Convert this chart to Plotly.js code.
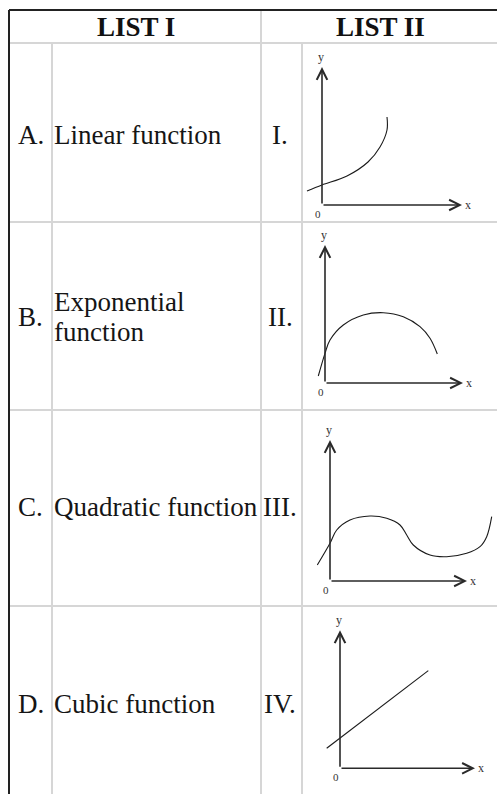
<!DOCTYPE html>
<html>
<head>
<meta charset="utf-8">
<script src="https://cdn.plot.ly/plotly-3.0.1.min.js"></script>
<style>html,body{margin:0;padding:0;background:#fff;}#chart{width:497px;height:794px;}</style>
</head>
<body>
<div id="chart"></div>
<script>
// ---- data ----
const headers = ["LIST I", "LIST II"];
const rowLetters = ["A.", "B.", "C.", "D."];
const functionNames = [["Linear function"], ["Exponential", "function"], ["Quadratic function"], ["Cubic function"]];
const romanLabels = ["I.", "II.", "III.", "IV."];

// graph I : rising curve (exponential-like)
const g1x = [-1.5, 0, 2.5, 4.6, 5.8, 6.5, 6.5];
const g1y = [1.4, 2.0, 2.9, 4.3, 5.8, 7.5, 8.8];
// graph II : arch (quadratic-like)
const g2x = [-0.67, 0, 0.5, 1.83, 3.83, 5.83, 7.83, 9.5, 10.5, 11.23];
const g2y = [0.7, 2.97, 4.3, 5.8, 6.8, 7.03, 6.63, 5.63, 4.47, 2.9];
// graph III : wave (cubic-like)
const g3x = [-1.27, 0, 0.67, 2, 4, 5.67, 7, 7.67, 8.33, 10, 11.67, 13.67, 15, 15.67, 16.17];
const g3y = [1.6, 3.77, 5.1, 6.1, 6.5, 6.27, 5.6, 4.6, 3.6, 2.6, 2.43, 2.77, 3.43, 4.43, 6.43];
// graph IV : straight line (linear)
const g4x = [-1.33, 8.83];
const g4y = [2.0, 9.77];

// axis lengths of each sketch (x, y)
const axisLenX = [14, 13.8, 13.7, 13.5];
const axisLenY = [13.8, 13.8, 14.1, 13.8];

const curvesX = [g1x, g2x, g3x, g4x];
const curvesY = [g1y, g2y, g3y, g4y];

// ---- layout geometry (pixels) ----
const W = 497, H = 794;
const rowEdges = [43, 222, 410, 606, 794];
const origins = [[322, 205], [325, 383], [330, 581], [340, 768.3]];
const pxPerUnit = 10;
const textCenters = [[134.5], [302, 332], [507], [703.5]];
const letterCenters = [134.5, 317, 507, 703.5];

const serif = 'Liberation Serif, Times New Roman, DejaVu Serif, serif';
const ink = '#151515';
const grey = '#d6d6d6';

const traces = [];
const annotations = [];
const shapes = [];
const layout = {
  width: W, height: H,
  margin: {l: 0, r: 0, t: 0, b: 0},
  paper_bgcolor: '#fff', plot_bgcolor: 'rgba(0,0,0,0)',
  showlegend: false,
  xaxis: {range: [0, W], domain: [0, 1], visible: false, fixedrange: true},
  yaxis: {range: [H, 0], domain: [0, 1], visible: false, fixedrange: true},
};

// table lines
rowEdges.slice(0, 4).forEach(y => shapes.push({type: 'line', xref: 'x', yref: 'y', x0: 9, x1: W, y0: y, y1: y, line: {color: grey, width: 2}}));
shapes.push({type: 'line', xref: 'x', yref: 'y', x0: 52, x1: 52, y0: 43, y1: H, line: {color: grey, width: 2}});
shapes.push({type: 'line', xref: 'x', yref: 'y', x0: 261, x1: 261, y0: 10, y1: H, line: {color: grey, width: 2}});
shapes.push({type: 'line', xref: 'x', yref: 'y', x0: 302, x1: 302, y0: 43, y1: H, line: {color: grey, width: 2}});
shapes.push({type: 'line', xref: 'x', yref: 'y', x0: 9, x1: W, y0: 10, y1: 10, line: {color: '#222', width: 2}});
shapes.push({type: 'line', xref: 'x', yref: 'y', x0: 9, x1: 9, y0: 10, y1: H, line: {color: '#222', width: 2}});

// headers
const headerCenters = [136, 380];
headers.forEach((h, i) => annotations.push({xref: 'x', yref: 'y', x: headerCenters[i], y: 27, text: '<b>' + h + '</b>', showarrow: false, xanchor: 'center', yanchor: 'middle', font: {family: serif, size: 27, color: '#111'}}));

// rows
for (let k = 0; k < 4; k++) {
  annotations.push({xref: 'x', yref: 'y', x: 30.5, y: letterCenters[k], text: rowLetters[k], showarrow: false, xanchor: 'center', yanchor: 'middle', font: {family: serif, size: 27, color: ink}});
  functionNames[k].forEach((t, j) => annotations.push({xref: 'x', yref: 'y', x: 52, y: textCenters[k][j], text: t, showarrow: false, xanchor: 'left', yanchor: 'middle', font: {family: serif, size: 27, color: ink}}));
  annotations.push({xref: 'x', yref: 'y', x: 280, y: letterCenters[k], text: romanLabels[k], showarrow: false, xanchor: 'center', yanchor: 'middle', font: {family: serif, size: 27, color: ink}});

  // sketch subplot
  const n = k + 2;
  const xa = 'xaxis' + n, ya = 'yaxis' + n;
  const [ox, oy] = origins[k];
  const top = rowEdges[k], bot = rowEdges[k + 1];
  layout[xa] = {domain: [302 / W, 1], range: [(302 - ox) / pxPerUnit, (W - ox) / pxPerUnit], visible: false, fixedrange: true, anchor: 'y' + n};
  layout[ya] = {domain: [(H - bot) / H, (H - top) / H], range: [(oy - bot) / pxPerUnit, (oy - top) / pxPerUnit], visible: false, fixedrange: true, anchor: 'x' + n};
  const xr = 'x' + n, yr = 'y' + n;
  traces.push({type: 'scatter', mode: 'lines', x: curvesX[k], y: curvesY[k], xaxis: xr, yaxis: yr, line: {color: '#1a1a1a', width: 1.1, shape: curvesX[k].length > 2 ? 'spline' : 'linear', smoothing: 1}, hoverinfo: 'skip'});
  // axes with arrows
  annotations.push({xref: xr, yref: yr, axref: xr, ayref: yr, x: 0, y: axisLenY[k], ax: 0, ay: 0, text: '', showarrow: true, arrowhead: 5, arrowsize: 1.3, arrowwidth: 1.6, arrowcolor: '#2a2a2a'});
  annotations.push({xref: xr, yref: yr, axref: xr, ayref: yr, x: axisLenX[k], y: 0, ax: 0, ay: 0, text: '', showarrow: true, arrowhead: 5, arrowsize: 1.3, arrowwidth: 1.6, arrowcolor: '#2a2a2a'});
  annotations.push({xref: xr, yref: yr, x: 0, y: axisLenY[k], text: 'y', showarrow: false, xanchor: 'center', yanchor: 'bottom', yshift: 1, xshift: -1, font: {family: serif, size: 12, color: '#333'}});
  annotations.push({xref: xr, yref: yr, x: axisLenX[k], y: 0, text: 'x', showarrow: false, xanchor: 'left', yanchor: 'middle', xshift: 1, font: {family: serif, size: 12, color: '#333'}});
  annotations.push({xref: xr, yref: yr, x: 0, y: 0, text: '0', showarrow: false, xanchor: 'center', yanchor: 'top', xshift: -4, yshift: -1, font: {family: serif, size: 11, color: '#333'}});
}

layout.annotations = annotations;
layout.shapes = shapes;
Plotly.newPlot('chart', traces, layout, {staticPlot: true, displayModeBar: false});
</script>
</body>
</html>
